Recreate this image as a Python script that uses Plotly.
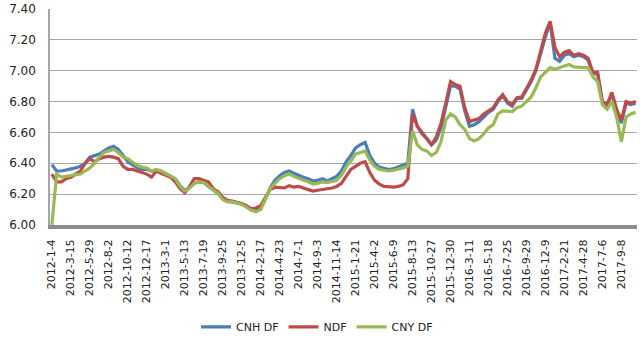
import plotly.graph_objects as go

# Axis tick labels (trading dates shown on the category axis)
tick_labels = [
    "2012-1-4", "2012-3-15", "2012-5-29", "2012-8-2", "2012-10-12", "2012-12-17",
    "2013-3-1", "2013-5-13", "2013-7-19", "2013-9-25", "2013-12-5", "2014-2-17",
    "2014-4-23", "2014-7-1", "2014-9-3", "2014-11-14", "2015-1-21", "2015-4-2",
    "2015-6-9", "2015-8-13", "2015-10-27", "2015-12-30", "2016-3-11", "2016-5-18",
    "2016-7-25", "2016-9-29", "2016-12-9", "2017-2-21", "2017-4-28", "2017-7-6",
    "2017-9-8",
]
# samples between consecutive labelled dates
steps_per_label = 4

cnh_df = [
    6.39, 6.35, 6.35, 6.355, 6.36, 6.37, 6.38, 6.40, 6.44, 6.45,
    6.46, 6.48, 6.50, 6.51, 6.49, 6.45, 6.41, 6.39, 6.37, 6.36,
    6.36, 6.35, 6.355, 6.35, 6.335, 6.32, 6.30, 6.255, 6.225, 6.24,
    6.27, 6.28, 6.275, 6.25, 6.225, 6.205, 6.17, 6.155, 6.15, 6.145,
    6.135, 6.12, 6.10, 6.09, 6.11, 6.17, 6.24, 6.29, 6.32, 6.34,
    6.35, 6.335, 6.32, 6.31, 6.30, 6.285, 6.29, 6.30, 6.285, 6.30,
    6.315, 6.35, 6.41, 6.45, 6.50, 6.52, 6.535, 6.45, 6.40, 6.375,
    6.365, 6.36, 6.365, 6.375, 6.39, 6.40, 6.75, 6.64, 6.59, 6.56,
    6.52, 6.55, 6.63, 6.76, 6.90, 6.90, 6.88, 6.74, 6.64, 6.65,
    6.67, 6.70, 6.73, 6.75, 6.80, 6.84, 6.79, 6.77, 6.82, 6.82,
    6.87, 6.93, 7.00, 7.12, 7.22, 7.31, 7.08, 7.06, 7.10, 7.11,
    7.09, 7.10, 7.09, 7.07, 6.98, 6.98, 6.80, 6.77, 6.85, 6.74,
    6.66, 6.79, 6.78, 6.79,
]
ndf = [
    6.33, 6.28, 6.28, 6.30, 6.31, 6.33, 6.35, 6.40, 6.43, 6.41,
    6.43, 6.44, 6.445, 6.44, 6.43, 6.38, 6.36, 6.36, 6.35, 6.34,
    6.33, 6.31, 6.35, 6.335, 6.325, 6.31, 6.28, 6.235, 6.21, 6.25,
    6.30, 6.30, 6.29, 6.28, 6.235, 6.215, 6.18, 6.16, 6.155, 6.15,
    6.14, 6.125, 6.105, 6.11, 6.125, 6.18, 6.23, 6.245, 6.24, 6.24,
    6.255, 6.245, 6.25, 6.24, 6.23, 6.22, 6.225, 6.23, 6.23, 6.24,
    6.25, 6.27, 6.315, 6.36, 6.38, 6.40, 6.41, 6.34, 6.29, 6.265,
    6.25, 6.245, 6.245, 6.25, 6.26, 6.30, 6.72, 6.64, 6.60, 6.56,
    6.52, 6.57, 6.66, 6.79, 6.93, 6.91, 6.90, 6.76, 6.67, 6.68,
    6.69, 6.72, 6.74, 6.76, 6.81, 6.845, 6.80, 6.78, 6.825, 6.83,
    6.885, 6.94, 7.01, 7.13, 7.245, 7.32, 7.15, 7.09, 7.12, 7.13,
    7.10, 7.11, 7.10, 7.08, 6.99, 6.99, 6.80, 6.78, 6.86, 6.75,
    6.68, 6.80, 6.79, 6.80,
]
cny_df = [
    6.00, 6.33, 6.31, 6.315, 6.32, 6.325, 6.33, 6.35, 6.37, 6.40,
    6.44, 6.47, 6.48, 6.49, 6.47, 6.44, 6.43, 6.405, 6.385, 6.375,
    6.37, 6.35, 6.36, 6.35, 6.335, 6.32, 6.30, 6.25, 6.22, 6.24,
    6.27, 6.28, 6.275, 6.25, 6.225, 6.205, 6.165, 6.15, 6.15, 6.145,
    6.135, 6.115, 6.095, 6.085, 6.10, 6.17, 6.235, 6.27, 6.30, 6.32,
    6.33, 6.315, 6.30, 6.29, 6.28, 6.265, 6.27, 6.28, 6.275, 6.28,
    6.29, 6.32, 6.375, 6.415, 6.46, 6.47, 6.48, 6.42, 6.38, 6.36,
    6.355, 6.35, 6.355, 6.36, 6.37, 6.38, 6.61, 6.52, 6.49, 6.48,
    6.45, 6.47, 6.54, 6.68, 6.72, 6.70, 6.65, 6.62, 6.56, 6.545,
    6.56, 6.59, 6.63, 6.65, 6.72, 6.74, 6.74, 6.735, 6.76, 6.77,
    6.80, 6.83, 6.89, 6.96, 6.99, 7.02, 7.01, 7.02, 7.025, 7.04,
    7.025, 7.02, 7.02, 7.02, 6.96, 6.93, 6.78, 6.75, 6.80, 6.70,
    6.54, 6.70, 6.72, 6.73,
]

series = [
    ("CNH DF", cnh_df, "#4a7ebb"),
    ("NDF", ndf, "#be4b48"),
    ("CNY DF", cny_df, "#98b954"),
]

x_idx = list(range(len(cnh_df)))
tick_pos = [k * steps_per_label for k in range(len(tick_labels))]

fig = go.Figure()
for name, vals, color in series:
    fig.add_trace(go.Scatter(
        x=x_idx, y=vals, mode="lines", name=name,
        line=dict(color=color, width=3.2),
    ))

font_family = "DejaVu Sans"
fig.update_layout(
    width=640, height=343,
    margin=dict(l=50, r=3, t=9, b=117),
    paper_bgcolor="white", plot_bgcolor="white",
    font=dict(family=font_family, size=11, color="#222"),
    showlegend=True,
    legend=dict(
        orientation="h", x=0.455, xanchor="center", y=-0.465, yanchor="middle",
        font=dict(size=11, color="#222"), itemwidth=30, tracegroupgap=0,
    ),
    xaxis=dict(
        range=[-0.4, len(cnh_df) - 0.7],
        tickmode="array", tickvals=tick_pos, ticktext=tick_labels,
        tickangle=-90, tickfont=dict(size=11),
        showgrid=False, zeroline=False,
        showline=True, linecolor="#8c8c8c", linewidth=4,
        ticks="", ticklabelstandoff=6,
    ),
    yaxis=dict(
        range=[6.0, 7.4], dtick=0.2, tickformat=".2f",
        tickfont=dict(size=12),
        showgrid=True, gridcolor="#a6a6a6", gridwidth=1,
        zeroline=False, showline=True, linecolor="#a6a6a6", linewidth=1.5,
        ticks="", ticklabelstandoff=10,
    ),
)

fig.write_html("out.html")
